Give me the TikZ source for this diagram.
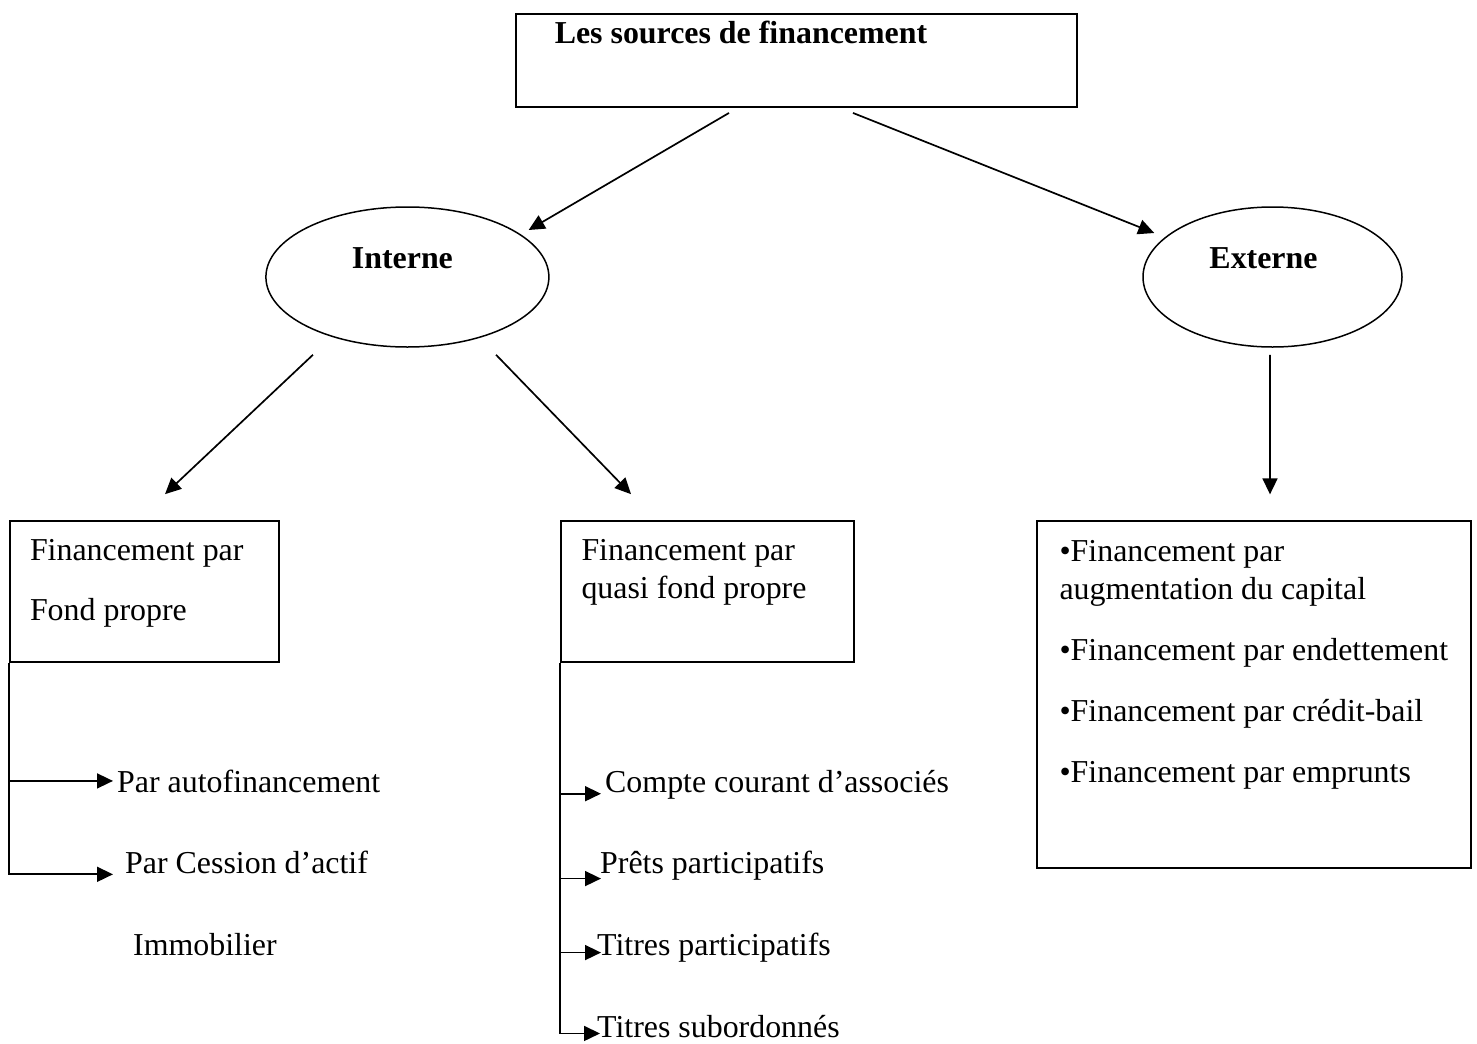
\documentclass[tikz,border=0pt]{standalone}
\usepackage{fontspec}
\setmainfont{Liberation Serif}
\usetikzlibrary{arrows.meta,shapes}

\begin{document}
\begin{tikzpicture}[every node/.style={font=\fontsize{31.9bp}{38.1bp}\selectfont},
box/.style={draw,line width=1.7bp,rectangle,inner xsep=20bp},
bulle/.style={draw,line width=1.5bp,ellipse,minimum width=283bp,minimum height=140bp,align=center},
lbl/.style={inner sep=0pt,anchor=base west},
fleche/.style={-{Triangle[length=16bp,width=15bp]},line width=1.7bp}]
\useasboundingbox (0bp,0bp) rectangle (1477bp,-1044bp);

\node (src) at (796.3bp,-60.3bp)[box,minimum height=93bp,inner xsep=39bp,text width=483bp,align=flush left] {\textbf{Les sources de financement}\\[17bp]\mbox{}};
\node (int) at (407.4bp,-277bp)[bulle] {\textbf{Interne}\hspace*{10bp}\\ \mbox{}};
\node (ext) at (1272.5bp,-277bp)[bulle,minimum width=259bp] {\textbf{Externe}\hspace*{18bp}\\ \mbox{}};
\node (fp) at (144.5bp,-591.2bp)[box,minimum height=141bp,text width=229bp,align=flush left] {Financement par\\[22bp]Fond propre\\[-15bp]\mbox{}};
\node (qfp) at (707.5bp,-591.2bp)[box,minimum height=141bp,inner xsep=20.5bp,text width=252bp,align=flush left] {Financement par\\quasi fond propre\\[6bp]\mbox{}};
\node (exb) at (1253.8bp,-694.4bp)[box,minimum width=434bp,minimum height=347bp,align=left] {•Financement par\\augmentation du capital\\[23bp]•Financement par endettement\\[23bp]•Financement par crédit-bail\\[23bp]•Financement par emprunts\\[28bp]\mbox{}};
\node (af) at (117bp,-792bp)[lbl] {Par autofinancement};
\node (ca) at (125bp,-873bp)[lbl] {Par Cession d’actif};
\node (im) at (133bp,-955bp)[lbl] {Immobilier};
\node (cca) at (605bp,-792bp)[lbl] {Compte courant d’associés};
\node (pp) at (600bp,-873bp)[lbl] {Prêts participatifs};
\node (tp) at (597bp,-955bp)[lbl] {Titres participatifs};
\node (ts) at (597bp,-1037bp)[lbl] {Titres subordonnés};
\draw [fleche] ([shift={(-67.3bp,-5.3bp)}]src.south) to ([shift={(-21bp,47bp)}]int.east);
\draw [fleche] ([shift={(56.7bp,-5.3bp)}]src.south) to ([shift={(12bp,44bp)}]ext.west);
\draw [fleche] ([shift={(-94.4bp,-7bp)}]int.south) to ([shift={(20.5bp,25.7bp)}]fp.north);
\draw [fleche] ([shift={(88.6bp,-7bp)}]int.south) to ([shift={(-76.5bp,25.7bp)}]qfp.north);
\draw [fleche] ([shift={(-2.5bp,-7bp)}]ext.south) to ([shift={(16.2bp,25.7bp)}]exb.north);
\draw [fleche] (fp.south west) |- ([shift={(-12bp,-12.4bp)}]ca.west);
\draw [fleche] ([xshift=-107bp]af.west) -- ([xshift=-4bp]af.west);
\draw [fleche] (qfp.south west) |- ([shift={(3bp,-7.4bp)}]ts.west);
\draw [fleche] ([shift={(-44bp,-9.4bp)}]cca.west) -- ([shift={(-4bp,-9.4bp)}]cca.west);
\draw [fleche] ([shift={(-39bp,-13.4bp)}]pp.west) -- ([shift={(1bp,-13.4bp)}]pp.west);
\draw [fleche] ([shift={(-36bp,-5.4bp)}]tp.west) -- ([shift={(4bp,-5.4bp)}]tp.west);
\end{tikzpicture}
\end{document}
